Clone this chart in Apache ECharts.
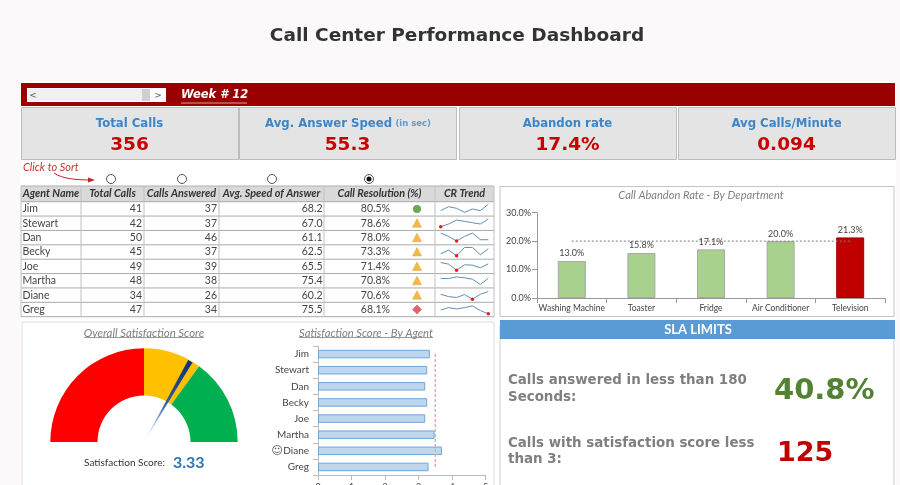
<!DOCTYPE html>
<html>
<head>
<meta charset="utf-8">
<title>Call Center Performance Dashboard</title>
<style>html,body{margin:0;padding:0;background:#fbf9f9}#chart{width:900px;height:485px}</style>
<script src="https://cdn.jsdelivr.net/npm/echarts@6/dist/echarts.min.js"></script>
</head>
<body>
<div id="chart"></div>
<script>
// Weekly KPI tiles
const kpiTitles = ['Total Calls', 'Avg. Answer Speed', 'Abandon rate', 'Avg Calls/Minute'];
const kpiValues = ['356', '55.3', '17.4%', '0.094'];

// Agent table
const tableHeaders = ['Agent Name', 'Total Calls', 'Calls Answered', 'Avg. Speed of Answer', 'Call Resolution (%)', 'CR Trend'];
const agentNames = ['Jim', 'Stewart', 'Dan', 'Becky', 'Joe', 'Martha', 'Diane', 'Greg'];
const totalCalls = [41, 42, 50, 45, 49, 48, 34, 47];
const callsAnswered = [37, 37, 46, 37, 39, 38, 26, 34];
const avgSpeed = [68.2, 67.0, 61.1, 62.5, 65.5, 75.4, 60.2, 75.5];
const callResolution = [80.5, 78.6, 78.0, 73.3, 71.4, 70.8, 70.6, 68.1];
const resolutionStatus = ['good', 'warn', 'warn', 'warn', 'warn', 'warn', 'warn', 'bad'];

// Call resolution trend per agent
const trendJim = [71.4, 79.6, 76.2, 67.9, 74.8, 71.4, 84.5];
const trendStewart = [67.9, 73.4, 81.7, 79.0, 76.2, 73.4, 83.8];
const trendDan = [84.5, 77.6, 67.9, 77.6, 84.5, 70.7, 70.7];
const trendBecky = [71.4, 79.0, 67.2, 84.5, 84.5, 69.3, 81.7];
const trendJoe = [83.1, 79.6, 67.2, 78.3, 77.6, 72.0, 80.3];
const trendMartha = [79.6, 79.6, 83.1, 81.0, 78.3, 67.2, 80.3];
const trendDiane = [76.9, 72.0, 70.0, 76.2, 66.5, 76.9, 82.4];
const trendGreg = [74.1, 79.0, 76.2, 79.0, 82.4, 72.8, 65.9];
const trendRows = [trendJim, trendStewart, trendDan, trendBecky, trendJoe, trendMartha, trendDiane, trendGreg];

// Abandon rate by department
const departments = ['Washing Machine', 'Toaster', 'Fridge', 'Air Conditioner', 'Television'];
const abandonRates = [13.0, 15.8, 17.1, 20.0, 21.3];
const abandonTarget = [20, 20, 20, 20, 20];

// Satisfaction gauge: band widths on the 0-5 scale, then the hidden lower half
const gaugeBands = [2.5, 1, 1.5];
const gaugeBandColors = ['#ff0000', '#ffc000', '#00b050'];
const gaugeHidden = [5];
const overallScore = [3.33];

// Satisfaction by agent
const agentScores = [3.34, 3.26, 3.2, 3.26, 3.2, 3.48, 3.7, 3.3];
const scoreTarget = [3.5, 3.5, 3.5, 3.5, 3.5, 3.5, 3.5, 3.5];

// SLA figures
const slaAnswered = '40.8%';
const slaLowScore = '125';

const VERDANA = '"DejaVu Sans", sans-serif';
const CALIBRI = 'Lato, "Open Sans", sans-serif';

const g = [];
const rect = (x, y, w, h, fill, stroke, lw) => g.push({type: 'rect', silent: true, shape: {x, y, width: w, height: h},
  style: {fill: fill || 'none', stroke: stroke || 'none', lineWidth: lw === undefined ? 1 : lw}});
const line = (x1, y1, x2, y2, stroke, lw) => g.push({type: 'line', silent: true, shape: {x1, y1, x2, y2},
  style: {stroke, lineWidth: lw || 1}});
const text = (x, y, t, font, fill, align) => g.push({type: 'text', silent: true, x, y,
  style: {text: t, font, fill, textAlign: align || 'left', textVerticalAlign: 'middle'}});

// Page surface and title
rect(20, 81, 876, 404, '#ffffff');
text(457, 36.5, 'Call Center Performance Dashboard', 'bold 18.5px ' + VERDANA, '#333333', 'center');

// Week banner with its scrollbar
rect(21, 83, 874, 23, '#990000');
rect(27, 88, 139, 14, '#ffffff');
rect(28, 89, 114, 12, '#f0f0f0');
rect(142, 89, 8, 12, '#cfcfcf');
text(33, 95.5, '<', 'bold 9px ' + VERDANA, '#777777', 'center');
text(158, 95.5, '>', 'bold 9px ' + VERDANA, '#777777', 'center');
text(181, 95.5, 'Week # 12', 'italic bold 11.5px ' + VERDANA, '#ffffff');
line(181, 103, 247, 103, '#d9a0a0', 1);

// KPI tiles
[[21, 217], [239, 217], [459, 217], [678, 217]].forEach((c, i) => {
  rect(c[0] + 0.5, 107.5, c[1], 52, '#e4e4e4', '#bdbdbd', 1);
  const cx = c[0] + c[1] / 2;
  if (i === 1) {
    g.push({type: 'text', silent: true, x: 348, y: 123.5, style: {
      text: '{a|' + kpiTitles[i] + '} {b|(in sec)}', textAlign: 'center', textVerticalAlign: 'middle',
      rich: {a: {font: 'bold 11.7px ' + VERDANA, fill: '#3d85c6'}, b: {font: 'bold 8.5px ' + VERDANA, fill: '#5b9bd5'}}}});
  } else {
    text(cx, 123.5, kpiTitles[i], 'bold 11.7px ' + VERDANA, '#3d85c6', 'center');
  }
  text(cx, 145.5, kpiValues[i], 'bold 18.5px ' + VERDANA, '#c80000', 'center');
});

// Sort hint and radio buttons
text(23, 167, 'Click to Sort', 'italic 11px ' + CALIBRI, '#c0392b');
g.push({type: 'bezierCurve', silent: true, shape: {x1: 54, y1: 173, x2: 92, y2: 180, cpx1: 62, cpy1: 179, cpx2: 78, cpy2: 180},
  style: {stroke: '#c8202a', lineWidth: 1, fill: 'none'}});
g.push({type: 'polygon', silent: true, shape: {points: [[88, 177.5], [95, 180], [88, 182.5]]}, style: {fill: '#c8202a'}});
[111, 182, 272, 369].forEach((x, i) => {
  g.push({type: 'circle', silent: true, shape: {cx: x, cy: 179, r: 4.5}, style: {fill: '#ffffff', stroke: '#555555', lineWidth: 1}});
  if (i === 3) g.push({type: 'circle', silent: true, shape: {cx: x, cy: 179, r: 2.5}, style: {fill: '#111111'}});
});

// Agent table
const colX = [21, 81, 144, 219, 324, 435, 494];
const tableTop = 186, headerBottom = 201.7, rowH = 14.375;
rect(colX[0], tableTop, colX[6] - colX[0], headerBottom - tableTop, '#d9d9d9');
tableHeaders.forEach((h, i) => {
  const cx = (colX[i] + colX[i + 1]) / 2;
  text(cx, tableTop + 8, h, 'italic bold 10.8px ' + CALIBRI, '#333333', 'center');
});
agentNames.forEach((name, i) => {
  const cy = headerBottom + rowH * (i + 0.5);
  text(colX[0] + 1.5, cy, name, '10.5px ' + CALIBRI, '#444444');
  text(142, cy, String(totalCalls[i]), '10.5px ' + CALIBRI, '#444444', 'right');
  text(217, cy, String(callsAnswered[i]), '10.5px ' + CALIBRI, '#444444', 'right');
  text(322.5, cy, avgSpeed[i].toFixed(1), '10.5px ' + CALIBRI, '#444444', 'right');
  text(390, cy, callResolution[i].toFixed(1) + '%', '10.5px ' + CALIBRI, '#444444', 'right');
  const s = resolutionStatus[i];
  if (s === 'good') {
    g.push({type: 'circle', silent: true, shape: {cx: 417, cy, r: 4}, style: {fill: '#6aa84f'}});
  } else if (s === 'warn') {
    g.push({type: 'polygon', silent: true, shape: {points: [[417, cy - 4.5], [421.5, cy + 4], [412.5, cy + 4]]},
      style: {fill: '#f4b84a', stroke: '#e0a030', lineWidth: 0.5}});
  } else {
    g.push({type: 'polygon', silent: true, shape: {points: [[417, cy - 4.5], [421.5, cy], [417, cy + 4.5], [412.5, cy]]},
      style: {fill: '#e06666', stroke: '#d05050', lineWidth: 0.5}});
  }
});
for (let i = 0; i <= 8; i++) {
  const y = headerBottom + rowH * i;
  line(colX[0], y, colX[6], y, '#aaaaaa', 1);
}
line(colX[0], tableTop, colX[6], tableTop, '#b0b0b0', 1);
colX.forEach(x => line(x, tableTop, x, headerBottom + rowH * 8, '#c0c0c0', 1));

// Abandon rate panel
rect(500, 186.5, 394, 130, '#ffffff', '#c4c4c4', 1);
text(701, 195, 'Call Abandon Rate - By Department', 'italic 11.1px ' + CALIBRI, '#808080', 'center');

// Satisfaction panels
rect(22, 322, 472, 170, '#ffffff', '#dddddd', 1);
text(144, 333, 'Overall Satisfaction Score', 'italic 11.4px ' + CALIBRI, '#808080', 'center');
line(84, 337.5, 204, 337.5, '#999999', 1);
text(366, 333, 'Satisfaction Score - By Agent', 'italic 11.2px ' + CALIBRI, '#808080', 'center');
line(299, 337.5, 433, 337.5, '#999999', 1);
text(165, 463, 'Satisfaction Score:', '10px ' + CALIBRI, '#333333', 'right');
text(173, 463, overallScore[0].toFixed(2), 'bold 16px ' + CALIBRI, '#2e75b6');
text(277, 451, '\u263A', '11px ' + VERDANA, '#555555', 'center');

// SLA panel
rect(500, 325, 394, 170, '#ffffff', '#cccccc', 1);
rect(500, 320, 395, 19, '#5b9bd5');
text(698, 329.5, 'SLA LIMITS', 'bold 13px ' + CALIBRI, '#ffffff', 'center');
const slaFont = 'bold 13.4px ' + VERDANA;
text(508, 380.5, 'Calls answered in less than 180', slaFont, '#7f7f7f');
text(508, 397.5, 'Seconds:', slaFont, '#7f7f7f');
text(508, 443.5, 'Calls with satisfaction score less', slaFont, '#7f7f7f');
text(508, 459.5, 'than 3:', slaFont, '#7f7f7f');
text(774, 391, slaAnswered, 'bold 29px ' + VERDANA, '#548235');
text(777, 453.5, slaLowScore, 'bold 27px ' + VERDANA, '#c00000');

// Cartesian grids: 0 = department bars, 1 = agent bars, the rest are sparklines
const grids = [
  {left: 537, top: 212.7, width: 348, height: 85.3, outerBoundsMode: 'none'},
  {left: 318, top: 346, width: 167.5, height: 129, outerBoundsMode: 'none'}
];
const xAxes = [
  {gridIndex: 0, type: 'category', data: departments,
    axisLine: {lineStyle: {color: '#999999'}}, axisTick: {show: true, alignWithLabel: false, lineStyle: {color: '#999999'}},
    axisLabel: {fontFamily: CALIBRI, fontSize: 8.5, color: '#444444', interval: 0, margin: 6}},
  {gridIndex: 1, type: 'value', min: 0, max: 5, interval: 1, splitLine: {show: false},
    axisLine: {show: true, lineStyle: {color: '#bbbbbb'}}, axisTick: {show: true, lineStyle: {color: '#bbbbbb'}},
    axisLabel: {fontFamily: CALIBRI, fontSize: 9, color: '#444444', margin: 8}}
];
const yAxes = [
  {gridIndex: 0, type: 'value', min: 0, max: 30, interval: 10, splitLine: {show: false},
    axisLine: {show: true, lineStyle: {color: '#999999'}}, axisTick: {show: true, lineStyle: {color: '#999999'}},
    axisLabel: {fontFamily: CALIBRI, fontSize: 9, color: '#444444', margin: 6, formatter: v => v.toFixed(1) + '%'}},
  {gridIndex: 1, type: 'category', data: agentNames, inverse: true,
    axisLine: {show: true, lineStyle: {color: '#bbbbbb'}}, axisTick: {show: true, lineStyle: {color: '#bbbbbb'}},
    axisLabel: {fontFamily: CALIBRI, fontSize: 10, color: '#444444', margin: 9}}
];
const series = [
  {type: 'bar', xAxisIndex: 0, yAxisIndex: 0, barWidth: 28, silent: true,
    data: abandonRates.map((v, i) => ({value: v, itemStyle: v > abandonTarget[i]
      ? {color: '#c00000', borderColor: '#a00000', borderWidth: 1}
      : {color: '#a9d18e', borderColor: '#a6a6a6', borderWidth: 1}})),
    label: {show: true, position: 'top', distance: 3, fontFamily: CALIBRI, fontSize: 9, color: '#444444', formatter: p => p.value.toFixed(1) + '%'}},
  {type: 'line', xAxisIndex: 0, yAxisIndex: 0, data: abandonTarget, symbol: 'none', silent: true, z: 3,
    lineStyle: {color: '#7f7f7f', width: 1, type: [2, 2]}},
  {type: 'bar', xAxisIndex: 1, yAxisIndex: 1, data: agentScores, barWidth: 8.5, silent: true,
    itemStyle: {color: '#bdd7ee', borderColor: '#6ea6da', borderWidth: 1}},
  {type: 'line', xAxisIndex: 1, yAxisIndex: 1, data: scoreTarget, symbol: 'none', silent: true, z: 3,
    lineStyle: {color: '#f29a9a', width: 1.3, type: [3, 2]}},
  {type: 'pie', center: [144, 442], radius: [46.5, 93.7], startAngle: 180, silent: true, label: {show: false}, labelLine: {show: false},
    data: gaugeBands.map((v, i) => ({value: v, itemStyle: {color: gaugeBandColors[i]}}))
      .concat(gaugeHidden.map(v => ({value: v, itemStyle: {color: 'rgba(0,0,0,0)'}})))},
  {type: 'gauge', center: [144, 442], radius: 93, startAngle: 180, endAngle: 0, min: 0, max: 5, silent: true, z: 5,
    axisLine: {show: false}, splitLine: {show: false}, axisTick: {show: false}, axisLabel: {show: false},
    title: {show: false}, detail: {show: false}, anchor: {show: false},
    pointer: {icon: 'path://M0,0 L10,0 L5,100 Z', length: '100%', width: 5, offsetCenter: [0, 0],
      itemStyle: {color: {type: 'linear', x: 0, y: 0, x2: 0, y2: 1, colorStops: [
        {offset: 0, color: '#10306f'}, {offset: 0.5, color: '#2a5aa8'}, {offset: 0.85, color: '#c9d6ea'}, {offset: 1, color: '#ffffff'}]}}},
    data: overallScore.map(v => ({value: v}))}
];

// One sparkline per table row, its lowest point marked in red
trendRows.forEach((values, i) => {
  grids.push({left: 440.7, top: headerBottom + rowH * i, width: 47.6, height: rowH, outerBoundsMode: 'none'});
  xAxes.push({gridIndex: i + 2, type: 'category', boundaryGap: false, show: false, data: values.map((_, k) => k)});
  yAxes.push({gridIndex: i + 2, type: 'value', show: false, min: 60, max: 90, splitLine: {show: false}});
  const low = Math.min(...values);
  series.push({type: 'line', xAxisIndex: i + 2, yAxisIndex: i + 2, silent: true, symbol: 'none', showSymbol: true,
    lineStyle: {color: '#5e8fb8', width: 1},
    data: values.map(v => v === low
      ? {value: v, symbol: 'circle', symbolSize: 3.5, itemStyle: {color: '#e02020'}}
      : {value: v})});
});

const chart = echarts.init(document.getElementById('chart'));
chart.setOption({
  animation: false,
  backgroundColor: '#fbf9f9',
  graphic: {elements: g},
  grid: grids,
  xAxis: xAxes,
  yAxis: yAxes,
  series: series
});
</script>
</body>
</html>
